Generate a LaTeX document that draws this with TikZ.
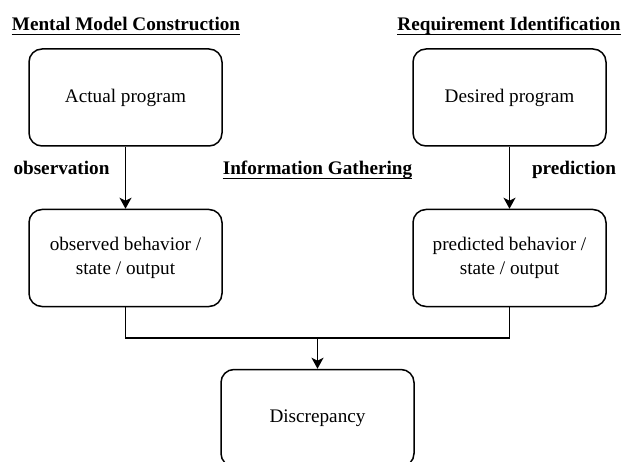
\documentclass[tikz,border=0pt]{standalone}
\usepackage{fontspec}
\setmainfont{Liberation Serif}
\usetikzlibrary{arrows.meta}
\begin{document}
\begin{tikzpicture}[x=1pt,y=-1pt,
  box/.style={draw, line width=1.5pt, rounded corners=13pt, minimum width=193pt,
    minimum height=97pt, align=center, inner sep=0pt,
    font=\fontsize{19.2}{24}\selectfont},
  title/.style={inner sep=0pt, anchor=base, font=\fontsize{19.2}{24}\selectfont\bfseries},
  flow/.style={line width=1.5pt},
  arrow/.style={flow, -{Stealth[length=11pt,width=12pt,inset=3pt]}},
  uline/.style={line width=1.2pt}]
\useasboundingbox (0,0) rectangle (623,462);

% section headings
\node[title] (hmm) at (126,31) {Mental Model Construction};
\node[title] (hri) at (509,31) {Requirement Identification};
\node[title] (hig) at (317.5,175) {Information Gathering};
\foreach \t in {hmm,hri,hig}
  \draw[uline] ([yshift=-3.5pt]\t.base west) -- ([yshift=-3.5pt]\t.base east);

% edge labels
\node[title] (lobs) at (61.5,175) {observation};
\node[title] (lpre) at (574,175) {prediction};

% boxes
\node[box] (act) at (125.5,97.5) {Actual program};
\node[box] (des) at (509.5,97.5) {Desired program};
\node[box] (obs) at (125.5,258) {observed behavior /\\state / output};
\node[box] (pre) at (509.5,258) {predicted behavior /\\state / output};
\node[box] (dis) at (317.5,418) {Discrepancy};

% connectors
\coordinate (j) at (317.5,338);
\draw[arrow] (act) -- (obs);
\draw[arrow] (des) -- (pre);
\draw[flow] (obs.south) |- (j);
\draw[flow] (pre.south) |- (j);
\draw[arrow] (j) -- (dis.north);
\end{tikzpicture}
\end{document}
